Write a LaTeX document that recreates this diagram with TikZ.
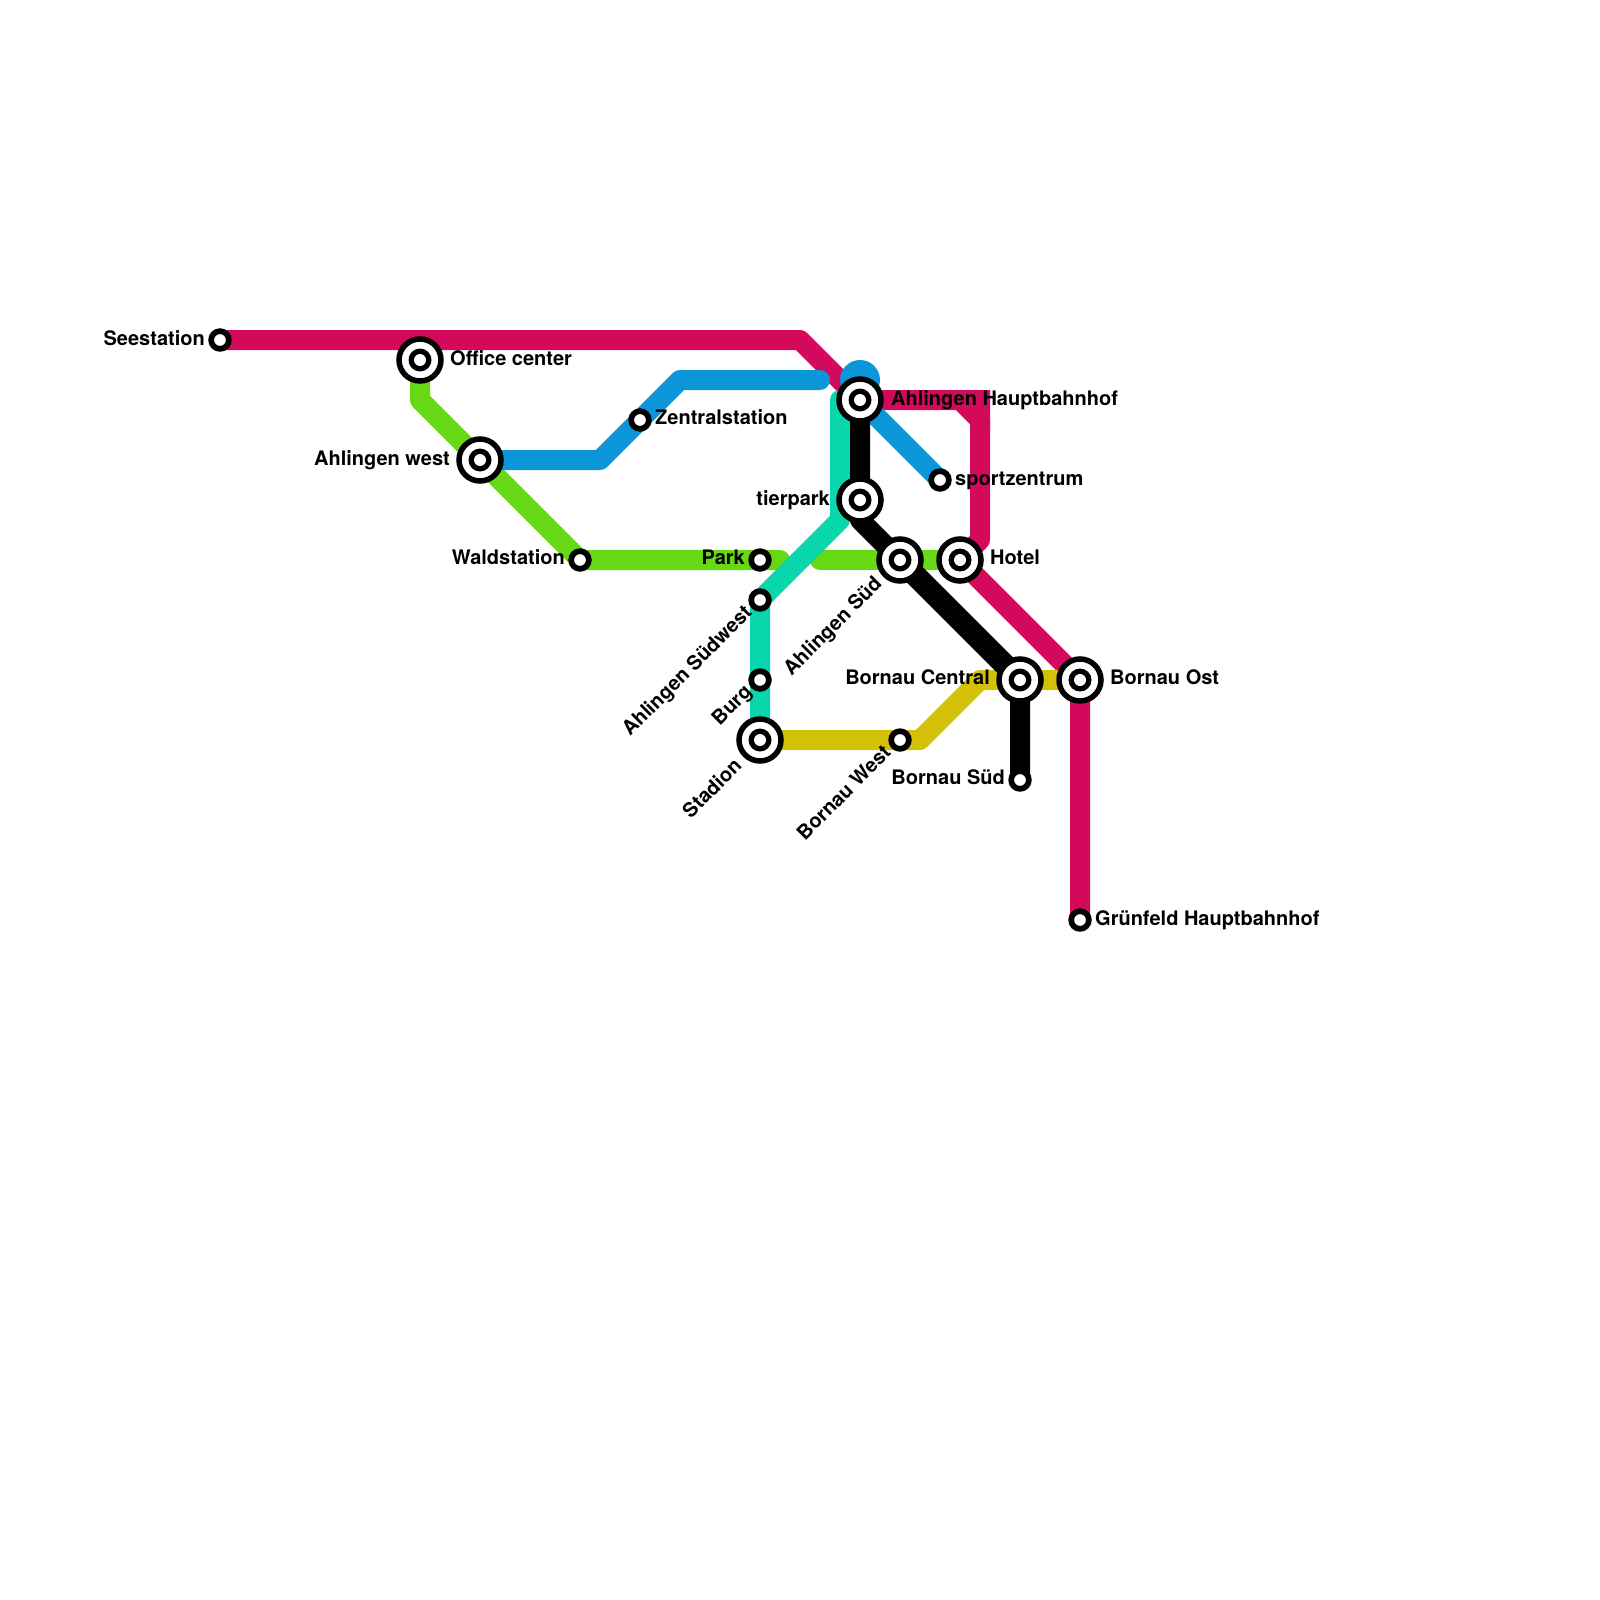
\documentclass[tikz,border=0pt]{standalone}
\usepackage{fontspec}
\setmainfont{TeX Gyre Heros}
\pgfdeclarelayer{paper}
\pgfdeclarelayer{lines}
\pgfsetlayers{paper,lines,main}
\definecolor{cred}{HTML}{D30A5B}
\definecolor{cgreen}{HTML}{66D814}
\definecolor{cblue}{HTML}{0A96D8}
\definecolor{cteal}{HTML}{0AD6AE}
\definecolor{cgold}{HTML}{D2C106}
\tikzset{
  metro/.style={line width=20pt,line join=round,line cap=round},
  hub/.style={circle,draw=black,fill=white,line width=5.5pt,minimum size=42pt,inner sep=0pt,
    path picture={\fill[black] (path picture bounding box.center) circle (11.5pt);
      \fill[white] (path picture bounding box.center) circle (6pt);}},
  halt/.style={circle,draw=black,fill=white,line width=5.7pt,minimum size=17.7pt,inner sep=0pt},
  lab/.style={inner sep=0pt,font=\fontsize{20}{22}\selectfont\bfseries,text=black},
  labl/.style={lab,anchor=base west},
  labr/.style={lab,anchor=base east},
  labd/.style={lab,anchor=base east,rotate=45},
}
\begin{document}
\begin{tikzpicture}[x=1pt,y=-1pt]
\useasboundingbox (0,0) rectangle (1600,1600);
\begin{pgfonlayer}{paper}
\fill[white] (0,0) rectangle (1600,1600);
\end{pgfonlayer}
% stations
\node[halt] (see) at (220,340) {};
\node[hub] (off) at (420,360) {};
\node[hub] (west) at (480,460) {};
\node[halt] (wald) at (580,560) {};
\node[halt] (park) at (760,560) {};
\node[halt] (zen) at (640,420) {};
\node[hub] (hbf) at (860,400) {};
\node[hub] (tier) at (860,500) {};
\node[hub] (sued) at (900,560) {};
\node[hub] (hotel) at (960,560) {};
\node[halt] (sport) at (940,480) {};
\node[halt] (sw) at (760,600) {};
\node[halt] (burg) at (760,680) {};
\node[hub] (stad) at (760,740) {};
\node[halt] (bw) at (900,740) {};
\node[hub] (bc) at (1020,680) {};
\node[hub] (bo) at (1080,680) {};
\node[halt] (bs) at (1020,780) {};
\node[halt] (gr) at (1080,920) {};
% bend points
\coordinate (r1) at (800,340);
\coordinate (r2) at (960,400);
\coordinate (r3) at (980,420);
\coordinate (r4) at (980,540);
\coordinate (g1) at (420,400);
\coordinate (g2) at (780,560);
\coordinate (g3) at (820,560);
\coordinate (b1) at (600,460);
\coordinate (b2) at (680,380);
\coordinate (b3) at (820,380);
\coordinate (b4) at (860,380);
\coordinate (t1) at (840,400);
\coordinate (t2) at (840,520);
\coordinate (k1) at (860,520);
\coordinate (y1) at (920,740);
\coordinate (y2) at (980,680);
\begin{pgfonlayer}{lines}
\draw[metro,cred] (see.center) -- (r1) -- (hbf.center) -- (r2) -- (r3) -- (r4) -- (hotel.center) -- (bo.center) -- (gr.center);
\fill[cred] (955,390) -- (990,390) -- (990,430) -- (975,415) -- cycle;
\draw[metro,cgreen] (off.center) -- (g1) -- (wald.center) -- (g2);
\draw[metro,cgreen] (g3) -- (hotel.center);
\draw[metro,cblue] (west.center) -- (b1) -- (b2) -- (b3);
\fill[cblue] (b4) circle (20pt);
\draw[metro,cblue] (hbf.center) -- (sport.center);
\draw[metro,cgold] (stad.center) -- (y1) -- (y2) -- (bo.center);
\draw[metro,cteal] (t1) -- (t2) -- (sw.center) -- (stad.center);
\draw[metro,black] (hbf.center) -- (k1) -- (bc.center) -- (bs.center);
\draw[metro,black,line width=22pt,line cap=butt] (sued.center) -- (bc.center);
\end{pgfonlayer}
% labels
\node[labr] (lsee) at (205,345) {Seestation};
\node[labl] (loff) at (450,365) {Office center};
\node[labr] (lwest) at (450,465) {Ahlingen west};
\node[labr] (lwald) at (565,564) {Waldstation};
\node[labr] (lpark) at (745,564) {Park};
\node[labl] (lzen) at (655,424) {Zentralstation};
\node[labl] (lhbf) at (891,405) {Ahlingen Hauptbahnhof};
\node[labl] (lsport) at (955,485) {sportzentrum};
\node[labr] (ltier) at (830,505) {tierpark};
\node[labl] (lhotel) at (990,564) {Hotel};
\node[labr] (lbc) at (990,684) {Bornau Central};
\node[labl] (lbo) at (1110,684) {Bornau Ost};
\node[labr] (lbs) at (1005,784) {Bornau Süd};
\node[labl] (lgr) at (1095,925) {Grünfeld Hauptbahnhof};
\node[labd] (lsued) at (883,585) {Ahlingen Süd};
\node[labd] (lsw) at (753,614) {Ahlingen Südwest};
\node[labd] (lburg) at (753,693) {Burg};
\node[labd] (lstad) at (743,767) {Stadion};
\node[labd] (lbw) at (892,754) {Bornau West};
\end{tikzpicture}
\end{document}
